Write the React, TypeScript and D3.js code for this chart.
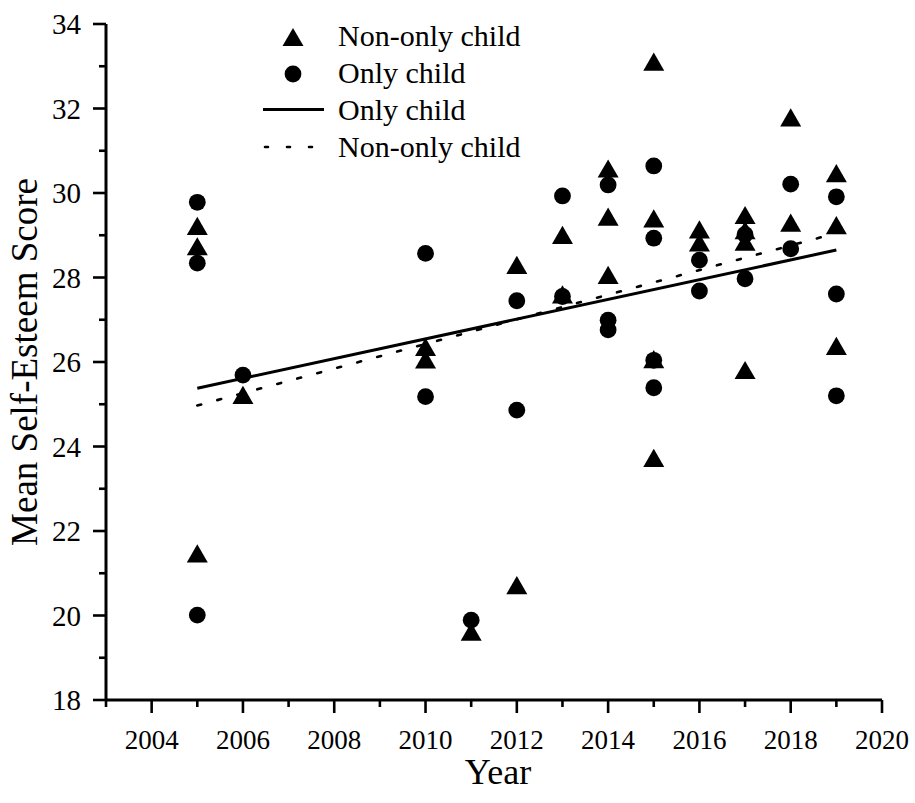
import React from "react";
import * as d3 from "d3";

// Survey years and mean self-esteem scores, non-only children (triangles)
const nonOnlyYears = [
  2005, 2005, 2005, 2006, 2010, 2010, 2011, 2012, 2012, 2013, 2013,
  2014, 2014, 2014, 2015, 2015, 2015, 2015, 2016, 2016,
  2017, 2017, 2017, 2017, 2018, 2018, 2019, 2019, 2019,
];
const nonOnlyScores = [
  29.22, 28.74, 21.47, 25.22, 26.36, 26.06, 19.62, 28.3, 20.72, 29.01, 27.6,
  30.58, 29.44, 28.06, 33.11, 29.4, 26.07, 23.73, 29.14, 28.83,
  29.48, 29.12, 28.85, 25.81, 31.79, 29.3, 30.47, 29.24, 26.38,
];

// Only children (circles)
const onlyYears = [
  2005, 2005, 2005, 2006, 2010, 2010, 2011, 2012, 2012, 2013, 2013,
  2014, 2014, 2014, 2015, 2015, 2015, 2015, 2016, 2016,
  2017, 2017, 2018, 2018, 2019, 2019, 2019,
];
const onlyScores = [
  29.78, 28.34, 20.01, 25.69, 28.57, 25.18, 19.89, 27.45, 24.86, 29.93, 27.55,
  30.19, 26.99, 26.76, 30.64, 28.93, 26.04, 25.39, 28.41, 27.68,
  29.02, 27.97, 30.21, 28.68, 29.91, 27.61, 25.2,
];

// Linear fit endpoints (year, fitted score)
const onlyFitYears = [2005, 2019];
const onlyFitScores = [25.38, 28.65];
const nonOnlyFitYears = [2005, 2019];
const nonOnlyFitScores = [24.97, 29.05];

// Axis ticks
const xMajorTicks = [2004, 2006, 2008, 2010, 2012, 2014, 2016, 2018, 2020];
const xMinorTicks = [2003, 2005, 2007, 2009, 2011, 2013, 2015, 2017, 2019];
const yMajorTicks = [18, 20, 22, 24, 26, 28, 30, 32, 34];
const yMinorTicks = [19, 21, 23, 25, 27, 29, 31, 33];

const legendLabels = ["Non-only child", "Only child", "Only child", "Non-only child"];

const FONT = "'Liberation Serif', 'Times New Roman', serif";
const W = 915;
const H = 803;

const triSide = 21;
const triH = triSide * 0.866;
const trianglePath = `M0,${-triH / 2}L${triSide / 2},${triH / 2}L${-triSide / 2},${triH / 2}Z`;
const circleR = 8.4;

export default function App() {
  const x = d3.scaleLinear().domain([2003, 2020]).range([106, 882]);
  const y = d3.scaleLinear().domain([18, 34]).range([700, 24]);

  const line = d3
    .line<[number, number]>()
    .x((d) => x(d[0]))
    .y((d) => y(d[1]));

  const onlyFit = onlyFitYears.map((yr, i) => [yr, onlyFitScores[i]] as [number, number]);
  const nonOnlyFit = nonOnlyFitYears.map((yr, i) => [yr, nonOnlyFitScores[i]] as [number, number]);

  const [x0, x1] = x.range();
  const [yBottom, yTop] = y.range();

  return (
    <svg
      width={W}
      height={H}
      viewBox={`0 0 ${W} ${H}`}
      style={{ position: "absolute", left: 0, top: 0, display: "block", background: "#fff", fontFamily: FONT }}
    >
      <rect x={0} y={0} width={W} height={H} fill="#fff" />

      {/* fit lines */}
      <path d={line(onlyFit) ?? ""} fill="none" stroke="#000" strokeWidth={3} />
      <path
        d={line(nonOnlyFit) ?? ""}
        fill="none"
        stroke="#000"
        strokeWidth={2.6}
        strokeDasharray="4 16.7"
        strokeLinecap="round"
      />

      {/* scatter points */}
      {nonOnlyYears.map((yr, i) => (
        <path
          key={`t${i}`}
          d={trianglePath}
          transform={`translate(${x(yr)},${y(nonOnlyScores[i])})`}
          fill="#000"
        />
      ))}
      {onlyYears.map((yr, i) => (
        <circle key={`c${i}`} cx={x(yr)} cy={y(onlyScores[i])} r={circleR} fill="#000" />
      ))}

      {/* y axis */}
      <line x1={x0} x2={x0} y1={yTop} y2={yBottom} stroke="#000" strokeWidth={3} />
      {yMajorTicks.map((t) => (
        <g key={`ym${t}`}>
          <line x1={x0 - 13} x2={x0} y1={y(t)} y2={y(t)} stroke="#000" strokeWidth={2.6} />
          <text x={81} y={y(t)} dy="0.35em" textAnchor="end" fontSize={29} fill="#000">
            {t}
          </text>
        </g>
      ))}
      {yMinorTicks.map((t) => (
        <line key={`yn${t}`} x1={x0 - 7} x2={x0} y1={y(t)} y2={y(t)} stroke="#000" strokeWidth={2.6} />
      ))}

      {/* x axis */}
      <line x1={x0} x2={x1} y1={yBottom} y2={yBottom} stroke="#000" strokeWidth={3} />
      {xMajorTicks.map((t) => (
        <g key={`xm${t}`}>
          <line x1={x(t)} x2={x(t)} y1={yBottom} y2={yBottom + 13} stroke="#000" strokeWidth={2.6} />
          <text x={x(t)} y={749} textAnchor="middle" fontSize={27} fill="#000">
            {t}
          </text>
        </g>
      ))}
      {xMinorTicks.map((t) => (
        <line key={`xn${t}`} x1={x(t)} x2={x(t)} y1={yBottom} y2={yBottom + 7} stroke="#000" strokeWidth={2.6} />
      ))}

      {/* axis titles */}
      <text x={498} y={784} textAnchor="middle" fontSize={36} fill="#000">
        Year
      </text>
      <text
        transform={`translate(37,${(yTop + yBottom) / 2}) rotate(-90)`}
        textAnchor="middle"
        fontSize={37}
        fill="#000"
      >
        Mean Self-Esteem Score
      </text>

      {/* legend */}
      <g>
        <path d={trianglePath} transform="translate(293,37)" fill="#000" />
        <circle cx={293} cy={74} r={circleR} fill="#000" />
        <line x1={263} x2={324} y1={109.5} y2={109.5} stroke="#000" strokeWidth={3} />
        <line
          x1={265}
          x2={324}
          y1={147}
          y2={147}
          stroke="#000"
          strokeWidth={2.6}
          strokeDasharray="3 19"
          strokeLinecap="round"
        />
        {legendLabels.map((label, i) => (
          <text key={`lg${i}`} x={338} y={46 + i * 37} fontSize={30} fill="#000">
            {label}
          </text>
        ))}
      </g>
    </svg>
  );
}
